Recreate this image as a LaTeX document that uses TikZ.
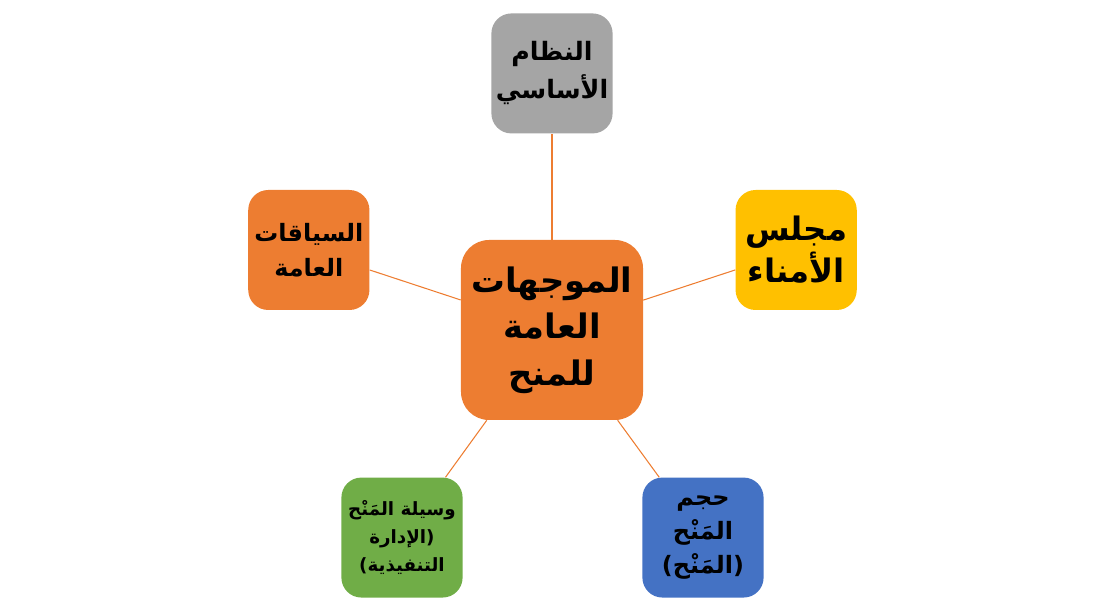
\documentclass[tikz,border=0pt]{standalone}
\usepackage{fontspec}
\newfontfamily\arabicfont[Script=Arabic]{DejaVu Sans}
\TeXXeTstate=1
\usetikzlibrary{positioning}

\definecolor{hubOrange}{HTML}{ED7D31}
\definecolor{baseGray}{HTML}{A5A5A5}
\definecolor{boardGold}{HTML}{FFC000}
\definecolor{meansGreen}{HTML}{70AD47}
\definecolor{sizeBlue}{HTML}{4472C4}

\newcommand{\rtl}[1]{{\arabicfont\bfseries\beginR #1\endR}}

\begin{document}
\begin{tikzpicture}[node distance=2.5cm, auto]
  % Define styles
  \tikzstyle{hubbox} = [rectangle, rounded corners=0.7cm, fill=hubOrange, text=black, align=center, minimum width=4.55cm, minimum height=4.5cm, inner sep=1pt]
  \tikzstyle{leaf} = [rectangle, rounded corners=0.5cm, text=black, align=center, minimum width=3.03cm, minimum height=3cm, inner sep=1pt]
  \tikzstyle{line} = [draw, hubOrange, line width=0.75pt]

  \useasboundingbox (-13.8,-7) rectangle (13.8,8.25);

  % Place nodes
  \node [hubbox, font=\fontsize{24}{33}\selectfont] (hub) {\rtl{الموجهات}\\\rtl{العامة}\\\rtl{للمنح}};
  \node [leaf, fill=baseGray, above=2.65cm of hub, font=\fontsize{18}{27}\selectfont] (base) {\rtl{النظام}\\\rtl{الأساسي}};
  \node [leaf, fill=hubOrange, left=2.275cm of hub, yshift=2cm, font=\fontsize{17}{25}\selectfont] (context) {\rtl{السياقات}\\\rtl{العامة}};
  \node [leaf, fill=boardGold, right=2.3cm of hub, yshift=2cm, font=\fontsize{23}{30}\selectfont] (board) {\rtl{مجلس}\\\rtl{الأمناء}};
  \node [leaf, fill=meansGreen, below=1.425cm of hub, xshift=-3.75cm, font=\fontsize{13}{20}\selectfont] (means) {\rtl{وسيلة المَنْح}\\\rtl{(الإدارة}\\\rtl{التنفيذية)}};
  \node [leaf, fill=sizeBlue, below=1.425cm of hub, xshift=3.775cm, font=\fontsize{17}{24}\selectfont] (size) {\rtl{حجم}\\\rtl{المَنْح}\\\rtl{(المَنْح)}};

  % Draw edges
  \path [line] (hub) -- (base);
  \path [line] (hub) -- (context);
  \path [line] (hub) -- (board);
  \path [line] (hub) -- (means);
  \path [line] (hub) -- (size);
\end{tikzpicture}
\end{document}
